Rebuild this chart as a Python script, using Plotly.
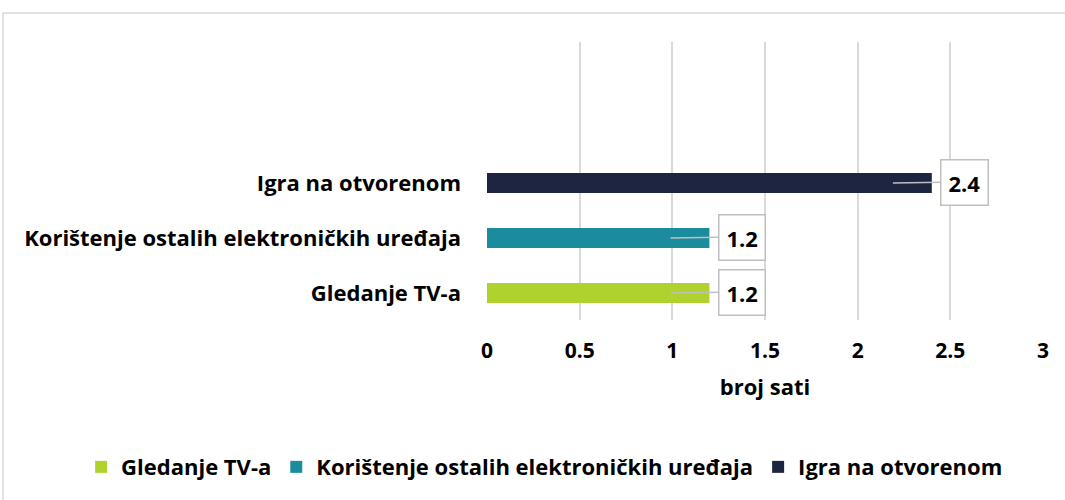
import plotly.graph_objects as go

categories = ["Gledanje TV-a", "Korištenje ostalih elektroničkih uređaja", "Igra na otvorenom"]
values = [1.2, 1.2, 2.4]
colors = ["#b0d22f", "#1b8c9e", "#1e2540"]
x_ticks = [0, 0.5, 1, 1.5, 2, 2.5, 3]
x_ticklabels = ["0", "0.5", "1", "1.5", "2", "2.5", "3"]
x_title = "broj sati"

FONT = "Open Sans"
FS = 22

fig = go.Figure()
for cat, val, col in zip(categories, values, colors):
    fig.add_trace(go.Bar(
        y=[cat], x=[val], orientation="h", name=cat,
        marker=dict(color=col, line=dict(width=0)),
        width=0.364, hoverinfo="skip",
    ))

for cat, val in zip(categories, values):
    fig.add_annotation(
        x=val - 0.21, y=cat, xref="x", yref="y",
        text=f"{val:.1f}", showarrow=True, arrowhead=0,
        arrowcolor="#bfbfbf", arrowwidth=1.5,
        ax=72, ay=-1, axref="pixel", ayref="pixel",
        bgcolor="white", bordercolor="#bfbfbf", borderwidth=1.5, borderpad=7,
        font=dict(family=FONT, size=FS, color="black", weight="bold"),
    )

# outer chart border
fig.add_shape(type="rect", xref="paper", yref="paper",
              x0=-0.8705, x1=1.2, y0=-0.8, y1=1.1043,
              line=dict(color="#d9d9d9", width=1.5), fillcolor="rgba(0,0,0,0)", layer="below")

fig.update_layout(
    width=1065, height=500,
    margin=dict(l=487, r=22, t=42, b=180),
    paper_bgcolor="white", plot_bgcolor="white",
    barmode="overlay",
    font=dict(family=FONT, color="black"),
    showlegend=True,
    legend=dict(orientation="h", x=-0.73, xanchor="left",
                y=-0.529, yanchor="middle",
                font=dict(family=FONT, size=FS, color="black", weight="bold"),
                traceorder="normal", itemwidth=30),
    xaxis=dict(range=[0, 3], tickvals=x_ticks, ticktext=x_ticklabels,
               showgrid=True, gridcolor="#d9d9d9", gridwidth=1.5, zeroline=False,
               showline=False, ticks="", ticklabelstandoff=16,
               tickfont=dict(family=FONT, size=21, color="black", weight="bold"),
               title=dict(text=x_title, font=dict(family=FONT, size=FS, color="black", weight="bold"), standoff=16),
               fixedrange=True),
    yaxis=dict(type="category", categoryorder="array", categoryarray=categories,
               range=[-0.49, 4.564], showgrid=False, zeroline=False, showline=False,
               ticks="", ticklabelstandoff=25,
               tickfont=dict(family=FONT, size=FS, color="black", weight="bold"),
               fixedrange=True),
)

fig.write_html("out.html", config={"displayModeBar": False},
               post_script="document.body.style.margin='0px';")
